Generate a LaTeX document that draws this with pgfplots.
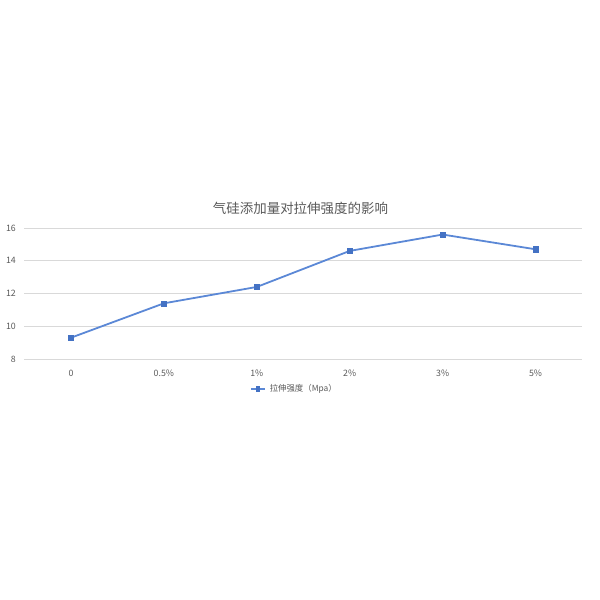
\documentclass[border=0pt]{standalone}
\usepackage{pgfplots}
\pgfplotsset{compat=1.18}
\usepackage{fontspec}
\setmainfont{Noto Sans CJK SC}
\definecolor{lineblue}{HTML}{5B88D6}
\definecolor{markblue}{HTML}{4472C4}
\definecolor{txtgray}{HTML}{595959}
\definecolor{gridgray}{HTML}{D9D9D9}
\begin{document}
\begin{tikzpicture}
% page = 600x600 px at 0.75pt per px
\path[use as bounding box] (-18.375pt,-180.75pt) rectangle (431.625pt,269.25pt);
\begin{axis}[
    scale only axis,
    width=418.125pt,
    height=98.25pt,
    anchor=south west,
    at={(0,0)},
    xmin=-0.5, xmax=5.5,
    ymin=8, ymax=16,
    xtick={0,1,2,3,4,5},
    xticklabels={0,0.5\%,1\%,2\%,3\%,5\%},
    ytick={8,10,12,14,16},
    axis line style={draw=none},
    major tick length=0pt,
    ymajorgrids,
    grid style={gridgray, line width=0.6pt},
    tick label style={font=\fontsize{6.6}{7.5}\selectfont, text=txtgray},
    /pgf/number format/assume math mode=true,
    xticklabel style={yshift=-5pt},
    yticklabel style={xshift=-3pt},
    title={气硅添加量对拉伸强度的影响},
    title style={font=\fontsize{10.1}{12}\selectfont, text=txtgray, anchor=center, at={(0.495,1)}, yshift=8.5pt},
    legend style={at={(0.485,-0.229)}, anchor=center, draw=none, fill=none,
        font=\fontsize{6.3}{7}\selectfont, text=txtgray,
        inner sep=0pt, /tikz/every odd column/.append style={column sep=1pt}},
    legend image post style={xscale=0.6},
]
\addplot[lineblue, line width=1.35pt, mark=square*, mark size=1.9pt,
    mark options={fill=markblue, draw=markblue, line width=0.4pt}] coordinates {
    (0,9.3) (1,11.4) (2,12.4) (3,14.6) (4,15.6) (5,14.7)
};
\addlegendentry{拉伸强度（Mpa）}
\end{axis}
\end{tikzpicture}
\end{document}
